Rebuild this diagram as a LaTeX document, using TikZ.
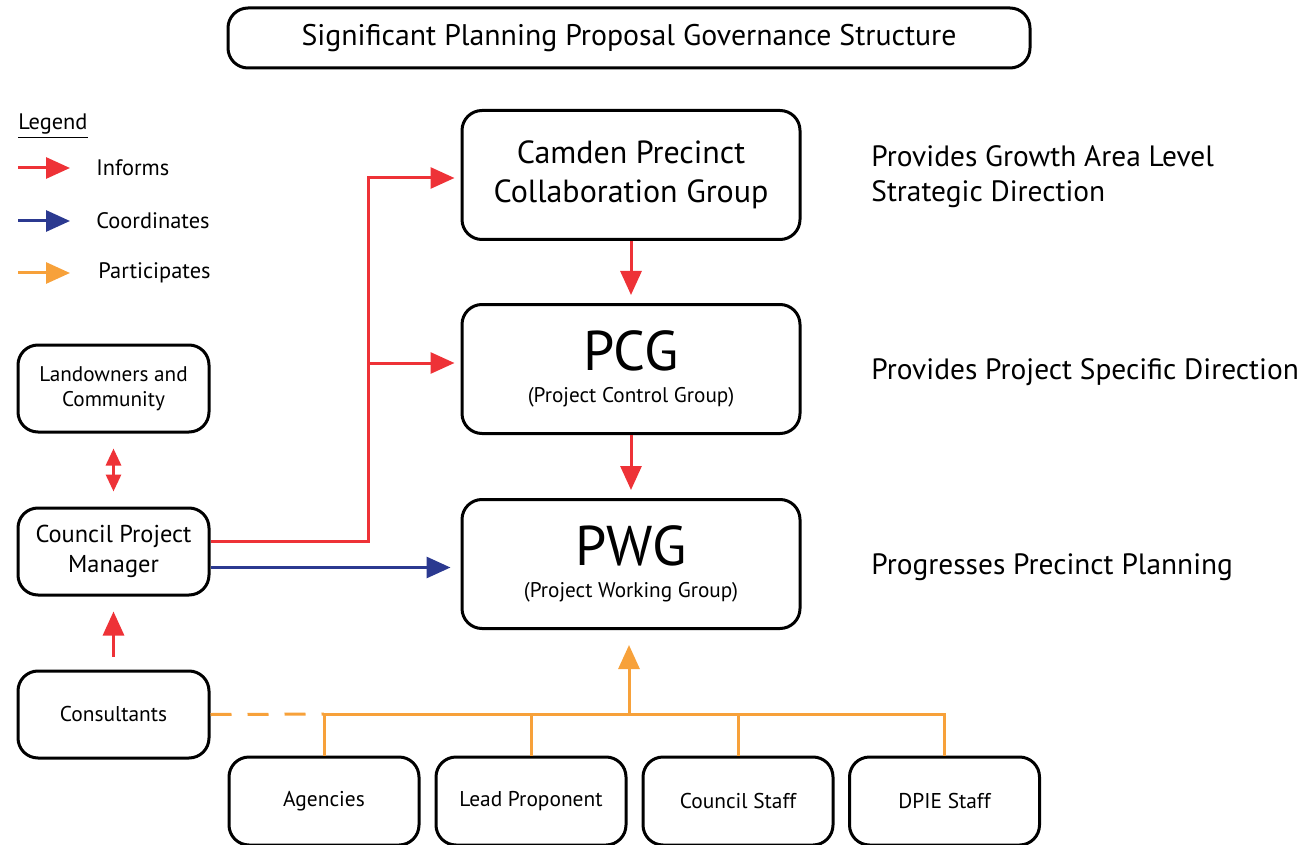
\documentclass[tikz,border=0pt]{standalone}
\usepackage{fontspec}
\setmainfont{PT Sans}
\usetikzlibrary{arrows.meta}
\definecolor{informs}{HTML}{EE3237}
\definecolor{coords}{HTML}{2B3990}
\definecolor{partic}{HTML}{F7A13A}
\newcommand{\fs}[1]{\fontsize{#1}{1.2\dimexpr#1pt\relax}\selectfont}

\begin{document}
\begin{tikzpicture}[x=0.5pt,y=-0.5pt,
  box/.style={rectangle,draw,rounded corners=10pt,line width=1.5pt,align=center,inner sep=0pt},
  group/.style={box,minimum width=169pt,minimum height=64.5pt},
  side/.style={box,minimum width=95.5pt,minimum height=43.5pt},
  member/.style={box,minimum width=95pt,minimum height=44pt,font=\fs{10.7}},
  key/.style={anchor=west,inner sep=0pt,font=\fs{11.2}},
  tip/.style={-{Triangle[length=12pt,width=10.5pt]}},
  inf/.style={tip,informs,line width=1.5pt},
  crd/.style={tip,coords,line width=1.5pt},
  par/.style={tip,partic,line width=1.5pt},
  parl/.style={partic,line width=1.5pt}]
\useasboundingbox (0,0) rectangle (1306,845);

% title
\node (t) [box,minimum width=401pt,minimum height=30pt,font=\fs{14.9}] at (629,38) {Significant Planning Proposal Governance Structure};

% legend
\node (lg) [key] at (18,126) {\underline{Legend}};
\coordinate (l1) at (18,168);
\coordinate (l2) at (18,221);
\coordinate (l3) at (18,273);
\node (li) [key] at (96,168) {Informs};
\node (lc) [key] at (96,221) {Coordinates};
\node (lp) [key] at (98,273) {Participates};
\draw [inf] (l1) -- ++(52,0);
\draw [crd] (l2) -- ++(52,0);
\draw [par] (l3) -- ++(52,0);

% groups
\node (c) [group,font=\fs{16}] at (631,175) {Camden Precinct\\Collaboration Group};
\node (p) [group] at (631,369) {{\fs{28}PCG}\\[4pt]{\fs{10.6}(Project Control Group)}};
\node (w) [group] at (631,564) {{\fs{28}PWG}\\[4pt]{\fs{10.6}(Project Working Group)}};

\node (cd) [anchor=west,inner sep=0pt,align=left,font=\fs{14.7}] at (871,177) {Provides Growth Area Level\\Strategic Direction};
\node (pd) [anchor=west,inner sep=0pt,font=\fs{14.7}] at (871,372) {Provides Project Specific Direction};
\node (wd) [anchor=west,inner sep=0pt,font=\fs{14.7}] at (871,567) {Progresses Precinct Planning};

% council side
\node (o) [side,font=\fs{10.6}] at (113.5,388.5) {Landowners and\\Community};
\node (m) [side,font=\fs{12.2}] at (113.5,551.5) {Council Project\\Manager};
\node (k) [side,font=\fs{10.7}] at (113.5,714.5) {Consultants};

% members
\node (a) [member] at (324,801) {Agencies};
\node (l) [member] at (531,801) {Lead Proponent};
\node (s) [member] at (738,801) {Council Staff};
\node (d) [member] at (944.5,801) {DPIE Staff};

\coordinate (j) at (368,363);
\coordinate (h) at (629,714);

\draw [inf,shorten >=4pt] (c.south) -- (p.north);
\draw [inf,shorten >=4pt] (p.south) -- (w.north);
\draw [inf,shorten >=3pt] ([yshift=5pt]m.east) -| (j) |- ([yshift=-1.5pt]c.west);
\draw [inf,shorten >=3pt] (j) -- (j -| p.west);
\draw [crd,shorten >=5pt] ([yshift=-8pt]m.east) -- ([yshift=-8pt]m.east -| w.west);
\draw [informs,line width=1.5pt,{Triangle[length=8.5pt,width=7.5pt]}-{Triangle[length=8.5pt,width=7.5pt]},shorten <=7.5pt,shorten >=7.5pt] (o) -- (m);
\draw [inf,shorten <=6.5pt,shorten >=7.5pt] (k) -- (m);

% participation bus
\draw [parl,dash pattern=on 10.5pt off 8pt] (k.east) -- (a.north |- h);
\draw [parl] (a.north) |- (h) -| (d.north);
\draw [parl] (l.north) -- (l.north |- h);
\draw [parl] (s.north) -- (s.north |- h);
\draw [par,shorten >=7.5pt] (h) -- (h |- w.south);
\end{tikzpicture}
\end{document}
